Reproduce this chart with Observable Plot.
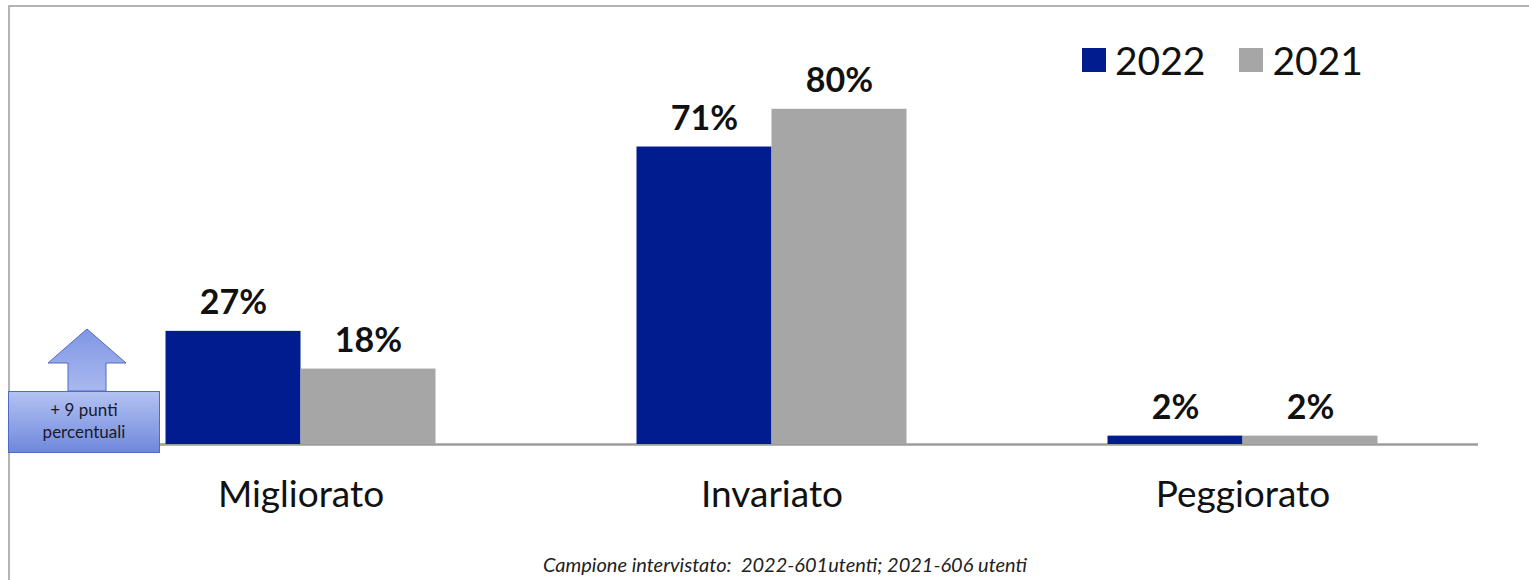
<!DOCTYPE html>
<html>
<head>
<meta charset="utf-8">
<script src="https://cdn.jsdelivr.net/npm/d3@7"></script>
<script src="https://cdn.jsdelivr.net/npm/@observablehq/plot@0.6"></script>
<style>
  html, body { margin: 0; padding: 0; background: #fff; }
  #wrap { position: relative; width: 1529px; height: 580px; overflow: hidden; font-family: Lato, "Open Sans", sans-serif; }
  #frame { position: absolute; left: 8px; top: 5px; width: 1600px; height: 700px;
           border-top: 2px solid #b3b3b3; border-left: 2px solid #b3b3b3;
           box-shadow: -1px -1px 2px rgba(0,0,0,0.12) inset; }
  #chart { position: absolute; left: 0; top: 0; }
  #legend { position: absolute; left: 1082px; top: 37px; display: flex; align-items: center; font-size: 39px; color: #111; }
  #legend .sw { width: 24px; height: 24px; display: inline-block; margin-right: 9px; }
  #legend .item { display: flex; align-items: center; margin-right: 34px; }
  #caption { position: absolute; left: 0; width: 1570px; top: 552px; text-align: center; font-style: italic; font-size: 20px; color: #222; }
  #note { position: absolute; left: 8px; top: 391px; width: 152px; height: 62px;
          background: linear-gradient(#b4c2f2, #6f88dc); border: 1px solid #4d6cc6;
          box-sizing: border-box; text-align: center; font-size: 17px; line-height: 22px; color: #1a1a2a;
          padding-top: 7px; font-family: Lato, sans-serif; }
  #arrow { position: absolute; left: 0; top: 0; }
</style>
</head>
<body>
<div id="wrap">
  <div id="frame"></div>
  <div id="chart"></div>
  <svg id="arrow" width="200" height="400">
    <defs>
      <linearGradient id="ag" x1="0" y1="0" x2="0" y2="1">
        <stop offset="0" stop-color="#8096e4"/>
        <stop offset="1" stop-color="#a9b9ef"/>
      </linearGradient>
    </defs>
    <polygon points="87,329 126,363 106,363 106,391 68,391 68,363 48,363" fill="url(#ag)" stroke="#4d6cc6" stroke-width="1"/>
  </svg>
  <div id="note">+ 9 punti<br>percentuali</div>
  <div id="legend"></div>
  <div id="caption">Campione intervistato:&nbsp; 2022-601utenti; 2021-606 utenti</div>
</div>
<script>
const categories = ["Migliorato", "Invariato", "Peggiorato"];
const years = ["2022", "2021"];
const values2022 = [27, 71, 2];
const values2021 = [18, 80, 2];
const colors = ["#001C8F", "#A6A6A6"];

const data = categories.flatMap((c, i) => [
  {category: c, year: "2022", value: values2022[i]},
  {category: c, year: "2021", value: values2021[i]}
]);

const chart = Plot.plot({
  width: 1529,
  height: 540,
  marginLeft: 64.5,
  marginRight: 51.5,
  marginTop: 25,
  marginBottom: 96,
  style: {fontFamily: "Lato, 'Open Sans', sans-serif", color: "#111", background: "transparent"},
  fx: {domain: categories, padding: 0, label: null},
  x: {domain: years, paddingInner: 0, paddingOuter: 0.744, axis: null},
  y: {domain: [0, 100], axis: null},
  color: {domain: years, range: colors},
  marks: [
    Plot.ruleY([0], {stroke: "#9c9c9c", strokeWidth: 2.5}),
    Plot.barY(data, {fx: "category", x: "year", y: "value", fill: "year",
      style: "filter: drop-shadow(1.5px 1.5px 1.5px rgba(0,0,0,0.3))"}),
    Plot.text(data, {fx: "category", x: "year", y: "value", text: d => d.value + "%",
      lineAnchor: "bottom", dy: -17, fontSize: 34, fontWeight: "bold", fill: "#111"}),
    Plot.axisFx({anchor: "bottom", tickSize: 0, tickPadding: 36, fontSize: 37, label: null, fill: "#111"})
  ]
});
document.getElementById("chart").appendChild(chart);

const legend = document.getElementById("legend");
years.forEach((y, i) => {
  const item = document.createElement("div");
  item.className = "item";
  item.innerHTML = `<span class="sw" style="background:${colors[i]}"></span><span>${y}</span>`;
  legend.appendChild(item);
});
</script>
</body>
</html>
